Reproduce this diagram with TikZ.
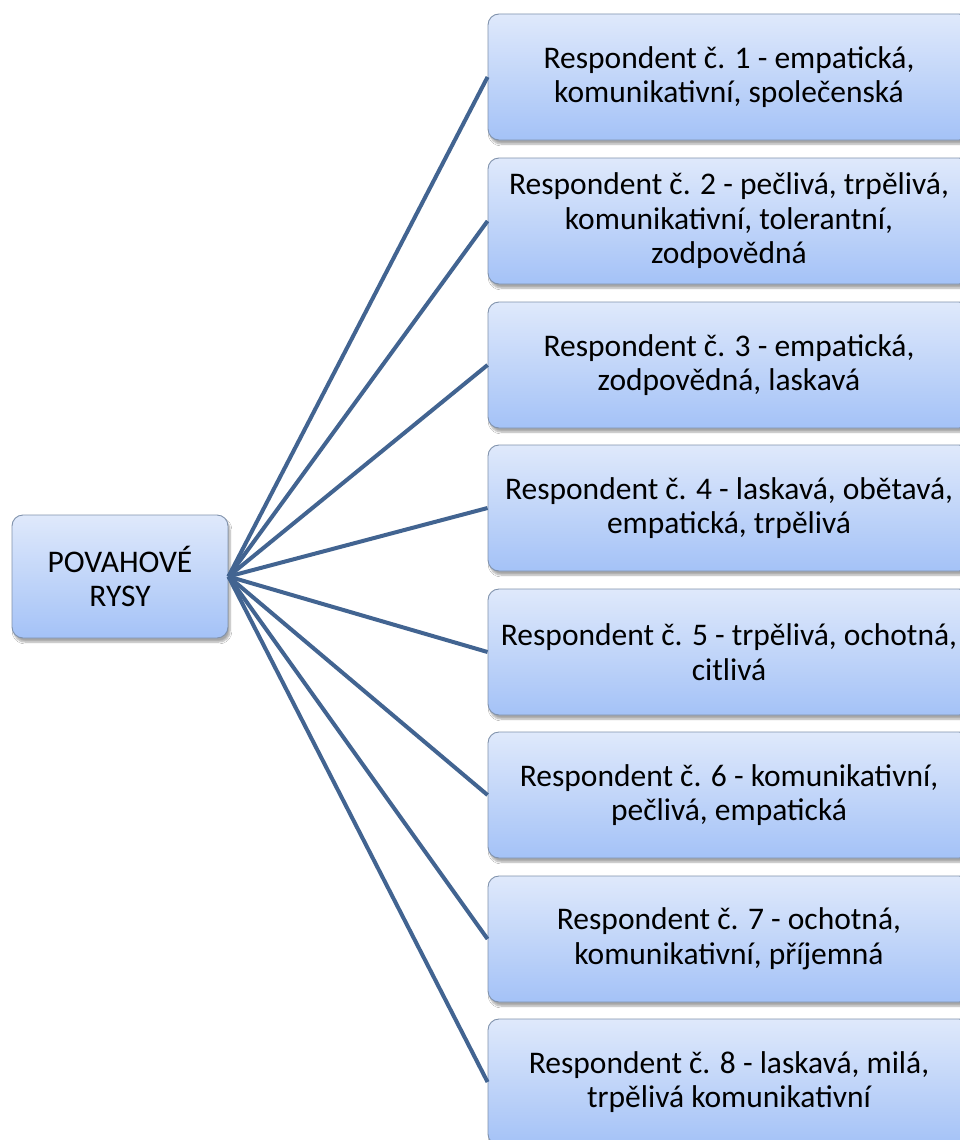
\documentclass[tikz,border=0pt]{standalone}
\usepackage{fontspec}
\setmainfont{Carlito}
\usetikzlibrary{shadows.blur}
\definecolor{linkblue}{RGB}{66,100,145}
\definecolor{boxtop}{RGB}{223,233,251}
\definecolor{boxbot}{RGB}{164,194,247}
\definecolor{boxedge}{RGB}{128,146,172}
\tikzset{
  card/.style={draw=boxedge, line width=0.9pt, rounded corners=11pt,
    top color=boxtop, bottom color=boxbot, align=center,
    font=\fontsize{31.5}{34.5}\selectfont, text=black, inner sep=0pt,
    blur shadow={shadow xshift=2pt, shadow yshift=-4pt, shadow blur steps=6, shadow opacity=35}},
  answer/.style={card, minimum width=482pt, minimum height=126pt},
  link/.style={draw=linkblue, line width=4pt}
}
\begin{document}
\begin{tikzpicture}[x=1pt,y=-1pt]
\useasboundingbox[fill=white] (0,0) rectangle (960,1140);
\node[card, minimum width=216pt, minimum height=123pt] (root) at (120,576.5) {POVAHOVÉ\\RYSY};
\node[answer] (r1) at (729,77) {Respondent č. 1 - empatická,\\komunikativní, společenská};
\node[answer] (r2) at (729,221) {Respondent č. 2 - pečlivá, trpělivá,\\komunikativní, tolerantní,\\zodpovědná};
\node[answer] (r3) at (729,365) {Respondent č. 3 - empatická,\\zodpovědná, laskavá};
\node[answer] (r4) at (729,508) {Respondent č. 4 - laskavá, obětavá,\\empatická, trpělivá};
\node[answer] (r5) at (729,652) {Respondent č. 5 - trpělivá, ochotná,\\citlivá};
\node[answer] (r6) at (729,795) {Respondent č. 6 - komunikativní,\\pečlivá, empatická};
\node[answer] (r7) at (729,939) {Respondent č. 7 - ochotná,\\komunikativní, příjemná};
\node[answer] (r8) at (729,1082) {Respondent č. 8 - laskavá, milá,\\trpělivá komunikativní};
\foreach \r in {r1,r2,r3,r4,r5,r6,r7,r8}
  \draw[link] (root.east) -- (\r.west);
\end{tikzpicture}
\end{document}
